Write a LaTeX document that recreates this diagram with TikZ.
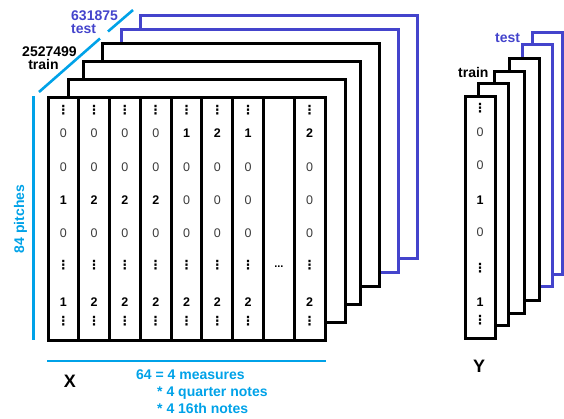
\documentclass[tikz,border=0pt]{standalone}
\usepackage{fontspec}
\setmainfont{Liberation Sans}
\newfontfamily\djv{DejaVu Sans}
\definecolor{cyanln}{RGB}{0,162,232}
\definecolor{bluefr}{RGB}{68,68,204}
\definecolor{zerogray}{RGB}{60,60,60}
\newcommand\vd{{\djv\bfseries\fontsize{12.5}{12.5}\selectfont\symbol{"22EE}}}
\newcommand\cellv[1]{\ifnum#1=0 \textcolor{zerogray}{\fontsize{12.5}{12.5}\selectfont 0}\else\textbf{\fontsize{12.5}{12.5}\selectfont #1}\fi}
\begin{document}
\begin{tikzpicture}[x=1pt,y=-1pt,
  xframe/.style={draw=black,line width=3pt,fill=white},
  xbframe/.style={draw=bluefr,line width=3pt,fill=white},
  colbox/.style={draw=black,line width=3pt},
  cell/.style={inner sep=0pt},
  lbl/.style={font=\bfseries\fontsize{14}{14}\selectfont,inner sep=0pt},
  big/.style={font=\bfseries\fontsize{18}{18}\selectfont,inner sep=0pt},
  dim/.style={draw=cyanln,line width=2.6pt}
]
\useasboundingbox (0,0) rectangle (564,418);
% ---- X stack
\foreach \x/\y/\s in {140/15/xbframe,121/29/xbframe,102/43/xframe,83/61/xframe,68/79/xframe,48/97/xframe}
  \draw[\s] (\x,\y) rectangle ++(277,243);
\foreach \i in {0,...,8}
  \draw[colbox] ({48+\i*30.78},97) rectangle ({48+(\i+1)*30.78},340);
\draw[draw=black,line width=3pt] (48,97) rectangle (325,340);
\foreach \i/\a/\b/\c/\d/\e in {1/0/0/1/0/1,2/0/0/2/0/2,3/0/0/2/0/2,4/0/0/2/0/2,5/1/0/0/0/2,6/2/0/0/0/2,7/1/0/0/0/2,9/2/0/0/0/2}{
  \pgfmathsetmacro\cx{48+(\i-0.5)*30.78}
  \node[cell] (x\i-t) at (\cx,110) {\vd};
  \node[cell] (x\i-a) at (\cx,133) {\cellv{\a}};
  \node[cell] (x\i-b) at (\cx,167) {\cellv{\b}};
  \node[cell] (x\i-c) at (\cx,200) {\cellv{\c}};
  \node[cell] (x\i-d) at (\cx,233) {\cellv{\d}};
  \node[cell] (x\i-m) at (\cx,265) {\vd};
  \node[cell] (x\i-e) at (\cx,302) {\cellv{\e}};
  \node[cell] (x\i-u) at (\cx,321) {\vd};
}
\node[cell,font=\bfseries\fontsize{11}{11}\selectfont] (x8-m) at ({48+7.5*30.78},267) {...};
% ---- Y stack
\foreach \x/\y/\s in {532/32/xbframe,522/44/xbframe,509/58/xframe,494/71/xframe,478/83/xframe,465/96/xframe}
  \draw[\s] (\x,\y) rectangle ++(30,242);
\node[cell] (y-t) at (480,108) {\vd};
\node[cell] (y-a) at (480,132) {\cellv{0}};
\node[cell] (y-b) at (480,165) {\cellv{0}};
\node[cell] (y-c) at (480,200) {\cellv{1}};
\node[cell] (y-d) at (480,232) {\cellv{0}};
\node[cell] (y-m) at (480,268) {\vd};
\node[cell] (y-e) at (480,302) {\cellv{1}};
\node[cell] (y-u) at (480,320) {\vd};
% ---- dimension lines
\coordinate (d1) at (39,92); \coordinate (d2) at (100,38.5);
\coordinate (d3) at (108,31.5); \coordinate (d4) at (133,10);
\draw[dim] (d1) -- (d2);
\draw[dim] (d3) -- (d4);
\coordinate (v1) at (33.5,96); \coordinate (v2) at (33.5,340);
\draw[dim] (v1) -- (v2);
\coordinate (h1) at (47,361); \coordinate (h2) at (326,361);
\draw[dim] (h1) -- (h2);
% ---- labels
\node[lbl,text=bluefr,anchor=base west] (ntest) at (71,20.5) {631875};
\node[lbl,text=bluefr,anchor=base west] (ltest) at (71,33) {test};
\node[lbl,anchor=base] (ntrain) at (49.5,56.5) {2527499};
\node[lbl,anchor=base] (ltrain) at (43.5,69.5) {train};
\node[lbl,text=cyanln,rotate=90,anchor=base] (pitch) at (24,219) {84 pitches};
\node[lbl,text=cyanln,anchor=base west] (m1) at (136,379) {64 = 4 measures};
\node[lbl,text=cyanln,anchor=base west] (m2) at (157,396) {* 4 quarter notes};
\node[lbl,text=cyanln,anchor=base west] (m3) at (157,413) {* 4 16th notes};
\node[big] (lx) at (70,381.5) {X};
\node[big] (ly) at (479,366) {Y};
\node[lbl,anchor=base west] (ytrain) at (458,77) {train};
\node[lbl,text=bluefr,anchor=base west] (ytest) at (495,42) {test};
\end{tikzpicture}
\end{document}
